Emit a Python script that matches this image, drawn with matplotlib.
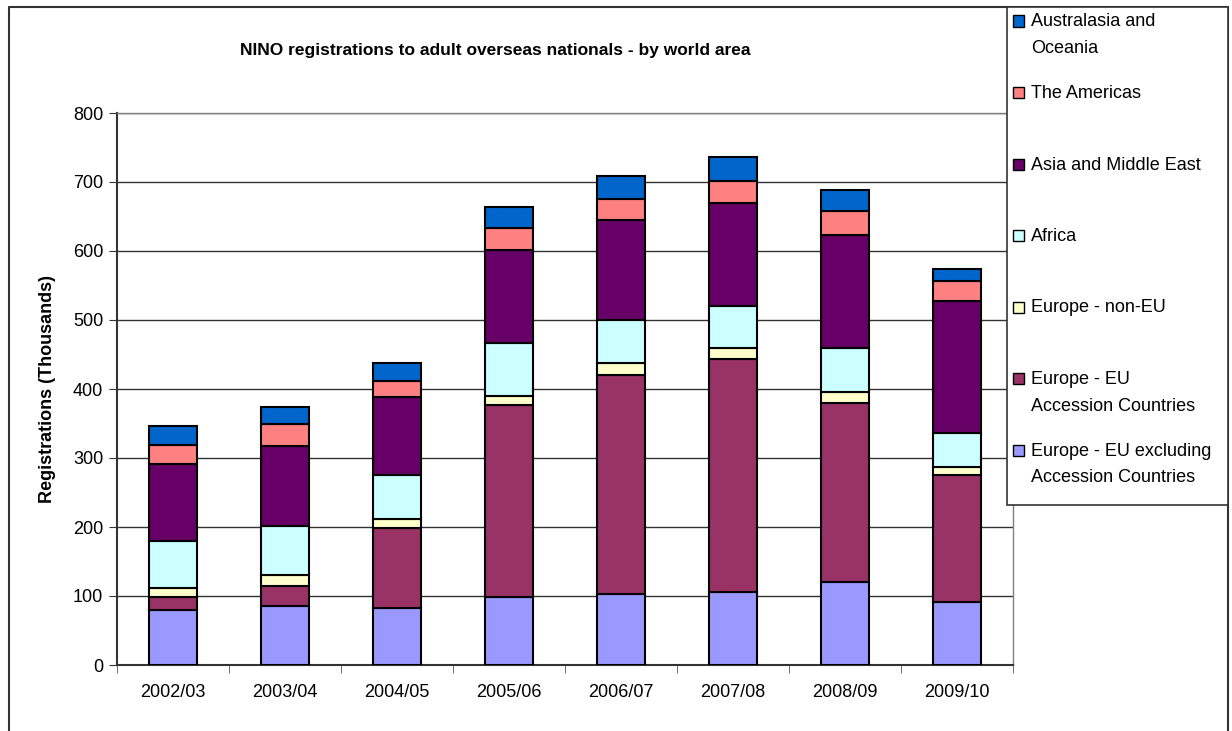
import numpy as np
import matplotlib
matplotlib.use('Agg')
import matplotlib.pyplot as plt
from matplotlib.patches import Rectangle
from matplotlib.lines import Line2D

plt.rcParams['font.family'] = ['Liberation Sans', 'DejaVu Sans']

# data (thousands)
years = ['2002/03', '2003/04', '2004/05', '2005/06', '2006/07', '2007/08', '2008/09', '2009/10']
eu_excl = [79, 85, 82, 98, 103, 106, 120, 92]
eu_accession = [19, 29, 117, 279, 318, 337, 260, 184]
europe_non_eu = [13, 17, 13, 13, 16, 16, 16, 11]
africa = [69, 70, 63, 77, 63, 61, 63, 49]
asia_me = [112, 116, 113, 134, 145, 149, 164, 191]
americas = [27, 32, 24, 33, 30, 33, 35, 30]
australasia = [28, 25, 26, 30, 33, 34, 30, 17]

series = [
    ('Europe - EU excluding\nAccession Countries', eu_excl, '#9999FF'),
    ('Europe - EU\nAccession Countries', eu_accession, '#993366'),
    ('Europe - non-EU', europe_non_eu, '#FFFFCC'),
    ('Africa', africa, '#CCFFFF'),
    ('Asia and Middle East', asia_me, '#660066'),
    ('The Americas', americas, '#FF8080'),
    ('Australasia and\nOceania', australasia, '#0066CC'),
]

W, H = 1232, 731
fig = plt.figure(figsize=(W / 100, H / 100), dpi=100)
ax = fig.add_axes([117 / W, (H - 665) / H, 896 / W, 552 / H])

x = np.arange(len(years))
bottom = np.zeros(len(years))
for name, vals, col in series:
    ax.bar(x, vals, width=0.42, bottom=bottom, color=col, edgecolor='black',
           linewidth=1.5, zorder=3)
    bottom += np.array(vals)

ax.set_xlim(-0.5, len(years) - 0.5)
ax.set_ylim(0, 800)
ax.set_yticks(np.arange(0, 801, 100))
ax.set_xticks(x)
ax.set_xticklabels(years, fontsize=13)
ax.set_xticks(np.arange(-0.5, len(years), 1), minor=True)
ax.tick_params(axis='x', which='major', length=0, pad=14)
ax.tick_params(axis='x', which='minor', length=6, direction='out', color='#555555')
ax.tick_params(axis='y', length=6, direction='out', labelsize=13, pad=4, color='#333333')
ax.grid(axis='y', color='#333333', linewidth=1, zorder=0)
for s in ['left', 'bottom']:
    ax.spines[s].set_color('#333333')
    ax.spines[s].set_linewidth(1.5)
for s in ['top', 'right']:
    ax.spines[s].set_color('#808080')
    ax.spines[s].set_linewidth(1)

ax.set_ylabel('Registrations (Thousands)', fontsize=13, fontweight='bold', labelpad=12)
fig.text(495 / W, 1 - 50 / H, 'NINO registrations to adult overseas nationals - by world area',
         ha='center', va='center', fontsize=12.5, fontweight='bold')

# outer chart border (left, top, right)
fig.add_artist(Line2D([8.5 / W, 8.5 / W, 1228 / W, 1228 / W], [0, 1 - 7 / H, 1 - 7 / H, 0],
                      color='#333333', linewidth=1.5))

# legend box, entries drawn top to bottom
fig.add_artist(Rectangle((1007 / W, 1 - 505 / H), 221 / W, 498 / H, facecolor='white',
                         edgecolor='#333333', linewidth=1.2, zorder=5))
for i, (name, vals, col) in enumerate(series[::-1]):
    yc = 21 + i * 71.5
    fig.add_artist(Rectangle((1013 / W, 1 - (yc + 5.5) / H), 11 / W, 11 / H, facecolor=col,
                             edgecolor='black', linewidth=1, zorder=6))
    fig.text(1031 / W, 1 - (yc - 7.5) / H, name, ha='left', va='top', fontsize=13,
             linespacing=1.75, zorder=6)

fig.savefig('out.png', dpi=100)
